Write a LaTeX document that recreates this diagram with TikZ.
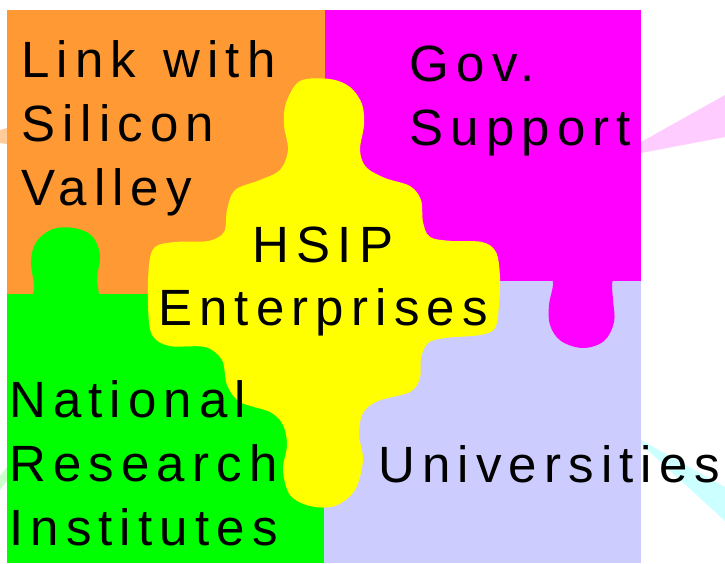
\documentclass[tikz,border=0pt]{standalone}
\usepackage{fontspec}
\newfontfamily\labelfont{Liberation Sans}[LetterSpace=14]
\definecolor{porange}{HTML}{FF9933}
\definecolor{pmagenta}{HTML}{FF00FF}
\definecolor{pgreen}{HTML}{00FF00}
\definecolor{plav}{HTML}{CCCCFF}
\definecolor{pyellow}{HTML}{FFFF00}
\definecolor{forange}{HTML}{FFCC99}
\definecolor{fpink}{HTML}{FFCCFF}
\definecolor{fcyan}{HTML}{CCFFFF}
\definecolor{fgreen}{HTML}{CCFFCC}
\tikzset{
  lbl/.style={font=\labelfont\fontsize{51}{64}\selectfont, inner sep=0pt, anchor=base west, align=left, text=black},
  clbl/.style={font=\labelfont\fontsize{51}{63}\selectfont, inner sep=0pt, anchor=base, align=center, text=black}
}
\begin{document}
\begin{tikzpicture}[x=1pt,y=-1pt]
\useasboundingbox (0,0) rectangle (725,563);
\clip (0,0) rectangle (725,563);
% faint spokes
\fill[forange] (0,130) -- (7,128) -- (7,144) -- (0,143) -- cycle;
\fill[fgreen] (0,476) -- (7,467) -- (7,481) -- (0,490) -- cycle;
\fill[fpink] (641,142) -- (725,95) -- (725,137) -- (641,153) -- cycle;
\fill[fcyan] (641,440) -- (725,487) -- (725,521) -- (641,444) -- cycle;
% quadrants
\fill[porange] (7,10) rectangle (325,294);
\fill[pmagenta] (325,10) rectangle (641,281);
\fill[pgreen] (7,294) rectangle (324,563);
\fill[plav] (324,281) rectangle (641,563);
% knobs
\fill[pgreen] plot[smooth cycle, tension=0.6] coordinates {(35,305) (34,285) (31,260) (37,241) (53,229) (74,228) (92,236) (100,255) (97,278) (97,305) (66,310)};
\fill[pmagenta] plot[smooth cycle, tension=0.6] coordinates {(553,265) (553,285) (549,305) (550,325) (561,341) (583,348) (604,341) (614,322) (613,300) (612,285) (613,265) (583,260)};
% central piece
\fill[pyellow] plot[smooth cycle, tension=0.55] coordinates {
(300,81) (330,79) (350,87) (362,104) (364,125) (360,150) (366,167) (385,178)
(410,186) (421,200) (423,222) (430,237) (452,241) (482,242) (496,252) (500,277)
(499,305) (495,328) (480,335) (445,338) (428,343) (421,358) (420,378) (410,392)
(378,401) (363,413) (359,435) (363,460) (355,490) (335,506) (310,506) (290,495)
(283,470) (287,445) (283,425) (270,412) (240,402) (227,385) (222,360) (205,347)
(170,346) (152,335) (148,305) (149,265) (155,247) (175,242) (208,241) (224,232)
(227,210) (235,190) (260,180) (280,170) (288,150) (284,125) (286,103)};
% labels (base anchor = baseline of the last line)
\node[lbl] (link) at (21,205) {Link\hspace{6pt} with\\Silicon\\Valley};
\node[lbl] (gov) at (409.5,145) {Gov.\\Support};
\node[clbl] (hsip) at (323,325) {HSIP\\Enterprises};
\node[lbl] (nri) at (9,545) {National\\Research\\Institutes};
\node[lbl] (univ) at (378,482) {Universities};
\end{tikzpicture}
\end{document}
